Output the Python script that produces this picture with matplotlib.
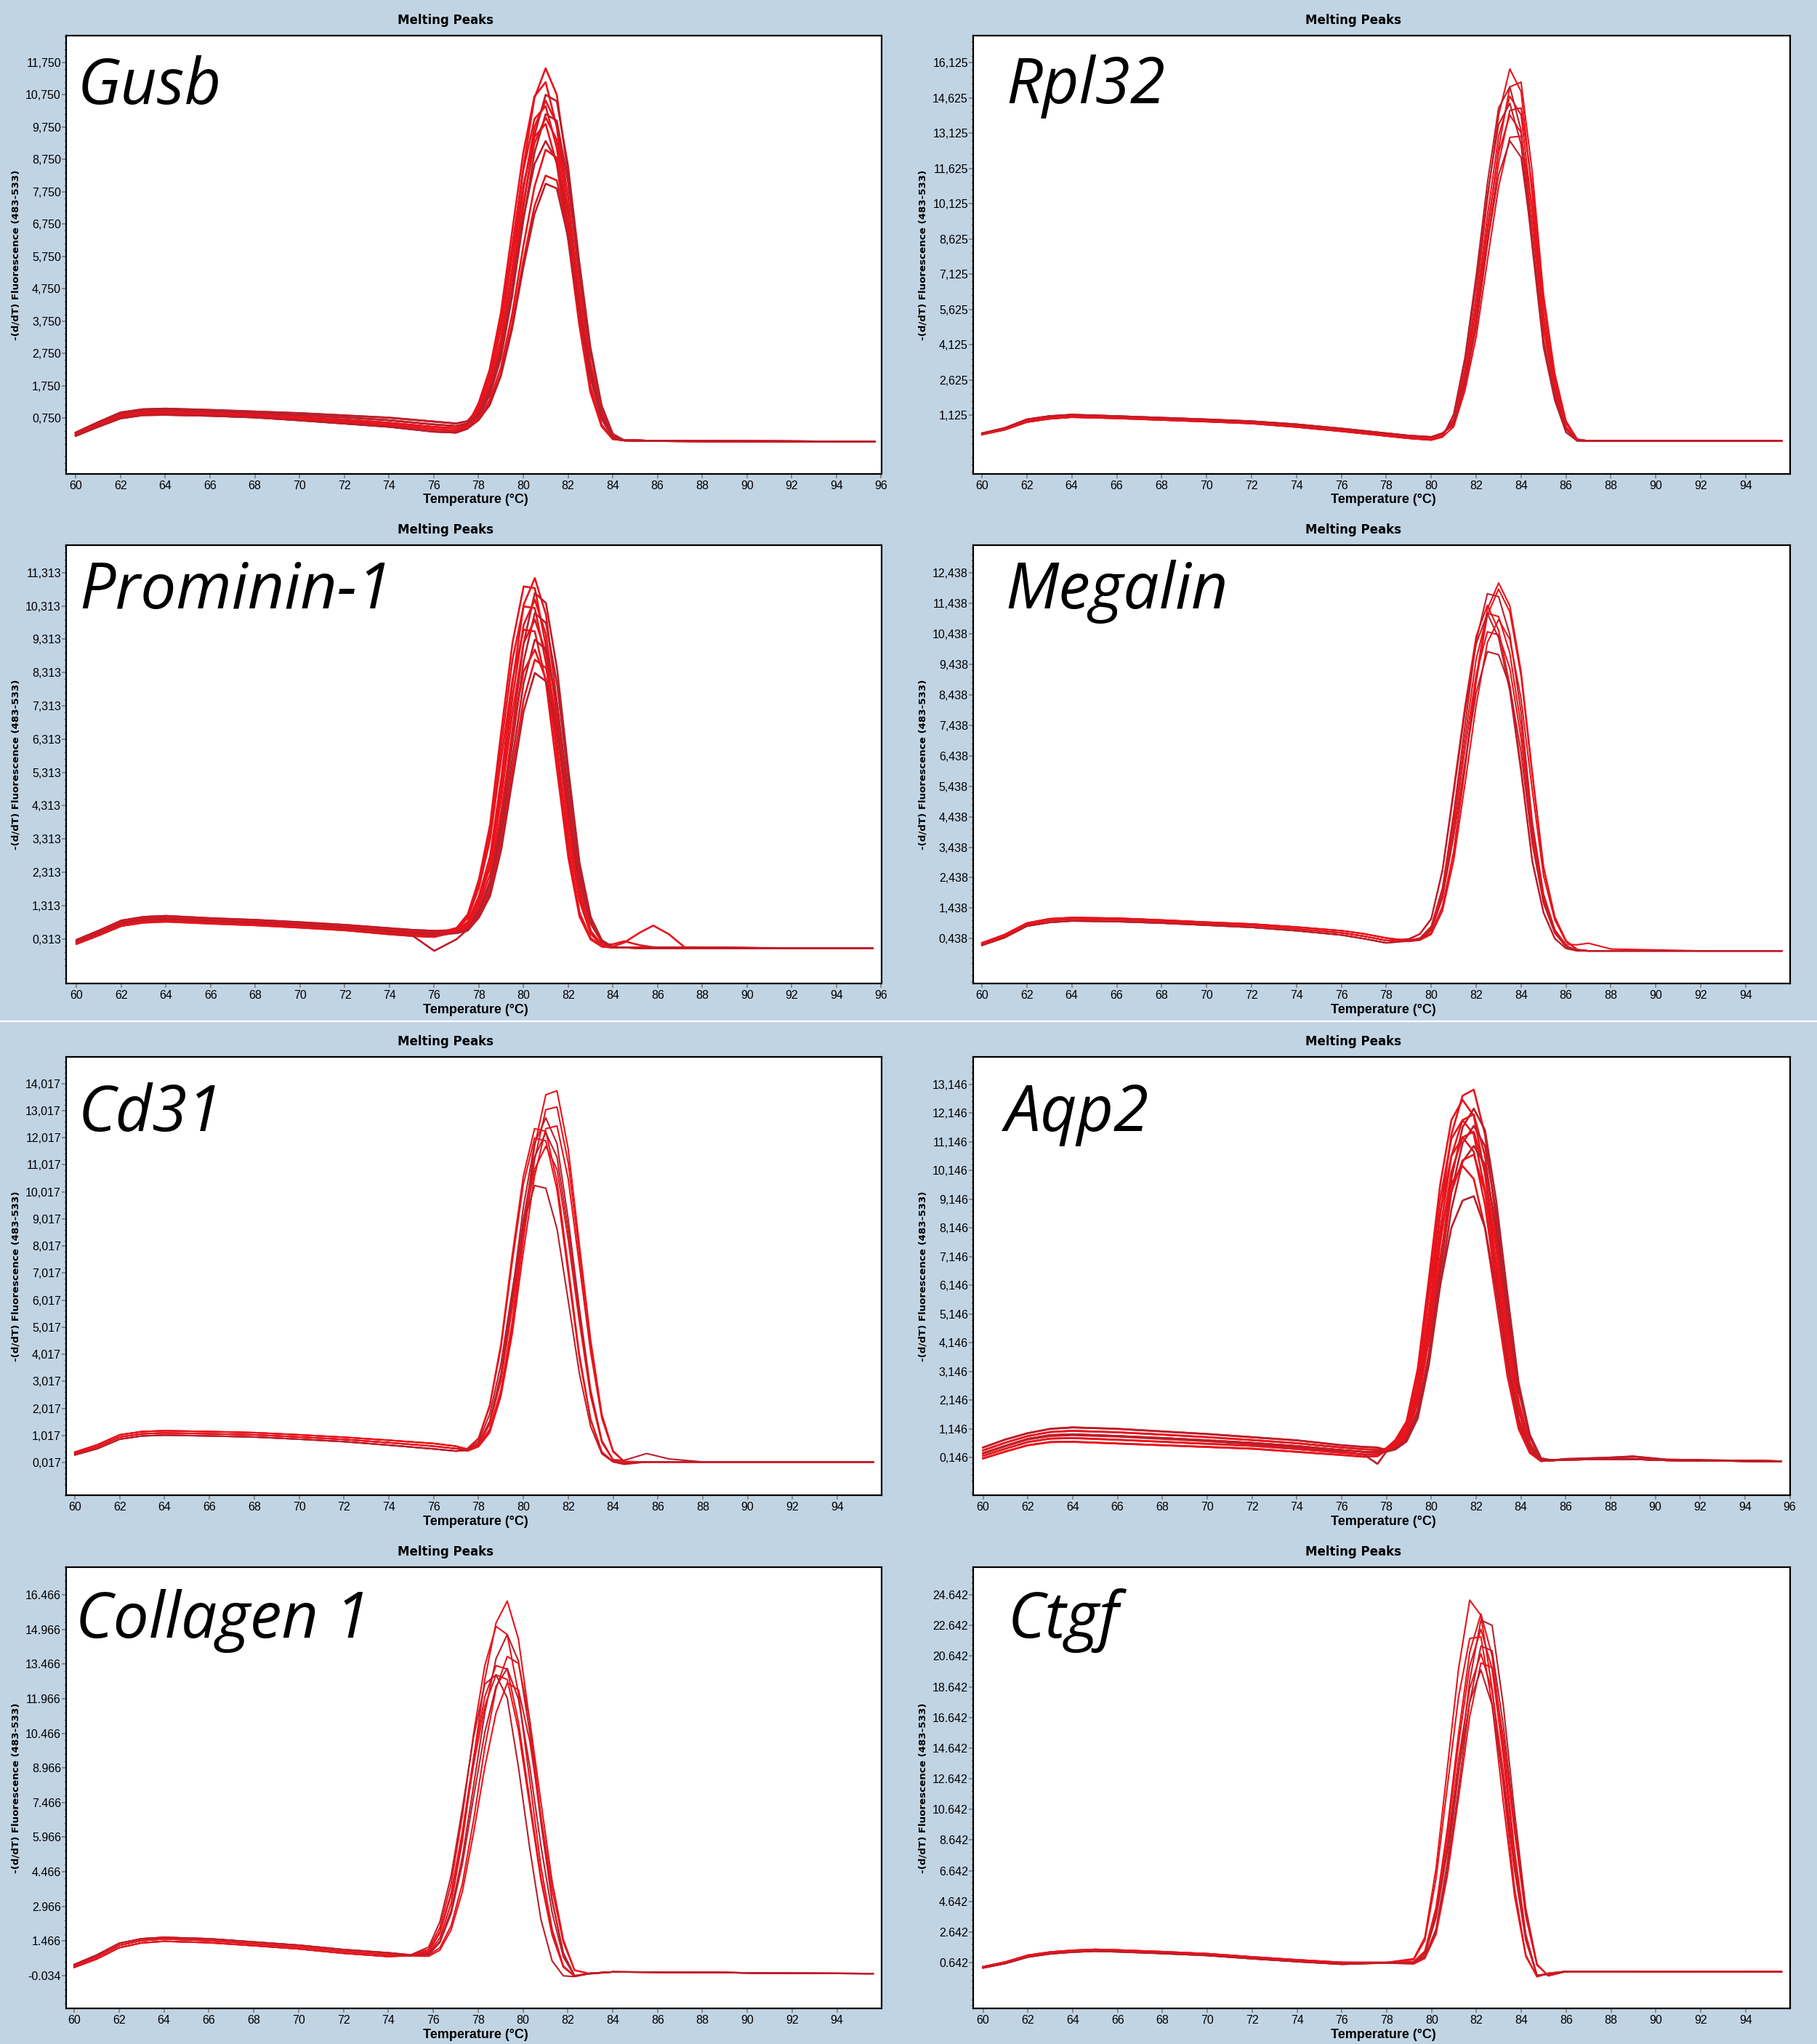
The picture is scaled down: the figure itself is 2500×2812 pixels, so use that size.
import numpy as np
import matplotlib
matplotlib.use("Agg")
import matplotlib.pyplot as plt
from matplotlib import font_manager as fm
from matplotlib.lines import Line2D
from matplotlib.ticker import FixedLocator

# ======================= DATA =======================
GENE_NAMES = ["Gusb", "Rpl32", "Prominin-1", "Megalin", "Cd31", "Aqp2", "Collagen 1", "Ctgf"]

# ---- Gusb ----
GUSB_T_BASE = [60, 61, 62, 63, 64, 66, 68, 70, 72, 74, 76, 77, 77.5]
GUSB_BASE = [
    [0.30, 0.62, 0.92, 1.02, 1.04, 1.00, 0.95, 0.90, 0.83, 0.76, 0.64, 0.58, 0.65],
    [0.28, 0.58, 0.87, 0.97, 0.99, 0.95, 0.90, 0.84, 0.77, 0.68, 0.55, 0.50, 0.58],
    [0.25, 0.55, 0.83, 0.93, 0.94, 0.90, 0.85, 0.78, 0.70, 0.60, 0.47, 0.43, 0.52],
    [0.22, 0.51, 0.78, 0.88, 0.89, 0.86, 0.81, 0.73, 0.64, 0.54, 0.40, 0.36, 0.47],
    [0.20, 0.48, 0.74, 0.84, 0.85, 0.82, 0.77, 0.68, 0.58, 0.48, 0.33, 0.30, 0.42],
]
GUSB_T_PEAK = [78, 78.5, 79, 79.5, 80, 80.5, 81, 81.5, 82, 82.5, 83, 83.5, 84]
GUSB_PEAKS = [
    [1.05, 1.95, 3.5, 5.85, 8.5, 10.65, 11.57, 10.75, 8.3, 5.15, 2.45, 0.9, 0.17],
    [1.2, 2.25, 4.0, 6.5, 8.95, 10.7, 11.14, 9.75, 7.1, 4.1, 1.75, 0.55, 0.1],
    [0.85, 1.55, 2.75, 4.75, 7.25, 9.5, 10.75, 10.55, 8.55, 5.6, 2.95, 1.15, 0.26],
    [0.97, 1.8, 3.2, 5.35, 7.8, 9.75, 10.57, 9.85, 7.6, 4.7, 2.25, 0.82, 0.15],
    [1.1, 2.1, 3.75, 6.05, 8.4, 10.0, 10.4, 9.1, 6.65, 3.85, 1.6, 0.5, 0.1],
    [0.8, 1.45, 2.6, 4.5, 6.85, 8.95, 10.15, 9.95, 8.05, 5.25, 2.8, 1.1, 0.25],
    [0.92, 1.7, 3.05, 5.1, 7.4, 9.25, 10.05, 9.35, 7.2, 4.5, 2.15, 0.78, 0.15],
    [1.05, 2.0, 3.55, 5.75, 7.95, 9.45, 9.85, 8.6, 6.3, 3.65, 1.55, 0.5, 0.1],
    [0.88, 1.6, 2.85, 4.7, 6.9, 8.6, 9.32, 8.7, 6.7, 4.15, 2.0, 0.72, 0.14],
    [0.75, 1.3, 2.3, 3.95, 6.05, 7.9, 9.05, 8.8, 7.1, 4.65, 2.45, 0.95, 0.22],
    [0.7, 1.2, 2.1, 3.65, 5.6, 7.3, 8.25, 8.1, 6.55, 4.3, 2.25, 0.9, 0.2],
    [0.68, 1.15, 2.05, 3.5, 5.4, 7.05, 8.0, 7.85, 6.35, 4.15, 2.2, 0.88, 0.2],
]
GUSB_T_TAIL = [84.5, 86, 90, 95.7]
GUSB_TAILS = [[0.06, 0.04, 0.03, 0.02]]
GUSB_BASE_IDX = [0, 2, 4, 1, 3, 0, 2, 4, 1, 3, 2, 4]
GUSB_TAIL_IDX = [0] * 12

# ---- Rpl32 ----
RPL32_T_BASE = [60, 61, 62, 63, 64, 66, 68, 70, 72, 74, 76, 78, 79, 80, 80.5]
RPL32_BASE = [
    [0.36, 0.58, 0.95, 1.09, 1.15, 1.09, 1.02, 0.95, 0.87, 0.74, 0.56, 0.36, 0.26, 0.20, 0.36],
    [0.33, 0.54, 0.89, 1.03, 1.10, 1.04, 0.97, 0.90, 0.82, 0.68, 0.50, 0.30, 0.20, 0.13, 0.28],
    [0.30, 0.50, 0.83, 0.97, 1.04, 0.99, 0.92, 0.85, 0.77, 0.62, 0.44, 0.24, 0.14, 0.07, 0.20],
]
RPL32_T_PEAK = [81, 81.5, 82, 82.5, 83, 83.5, 84, 84.5, 85, 85.5, 86, 86.5]
RPL32_PEAKS = [
    [0.95, 3.1, 6.2, 10.3, 13.9, 15.86, 14.9, 10.5, 5.35, 2.45, 0.64, 0.05],
    [0.73, 2.5, 5.1, 8.85, 12.5, 15.1, 15.3, 11.45, 6.25, 2.9, 0.88, 0.1],
    [1.17, 3.57, 7.05, 11.0, 14.2, 15.1, 13.25, 8.65, 4.2, 1.85, 0.41, 0.03],
    [0.9, 2.9, 5.8, 9.6, 13.0, 14.7, 13.9, 9.8, 5.0, 2.3, 0.6, 0.05],
    [0.69, 2.37, 4.85, 8.4, 11.85, 14.1, 14.2, 10.85, 5.9, 2.75, 0.84, 0.1],
    [1.12, 3.4, 6.7, 10.5, 13.5, 14.4, 12.65, 8.25, 4.0, 1.75, 0.39, 0.03],
    [0.85, 2.75, 5.5, 9.1, 12.3, 13.9, 13.15, 9.25, 4.75, 2.2, 0.57, 0.05],
    [0.63, 2.17, 4.45, 7.7, 10.85, 12.95, 13.0, 9.95, 5.45, 2.55, 0.78, 0.1],
    [0.8, 2.55, 5.05, 8.4, 11.35, 12.8, 12.1, 8.55, 4.35, 2.0, 0.52, 0.05],
]
RPL32_T_TAIL = [87, 90, 95.6]
RPL32_TAILS = [[0.03, 0.03, 0.03]]
RPL32_BASE_IDX = [1, 0, 2, 1, 0, 2, 1, 2, 0]
RPL32_TAIL_IDX = [0] * 9

# ---- Prominin-1 ----
PROM_T_BASE = [60, 61, 62, 63, 64, 66, 68, 70, 72, 74, 75, 76]
PROM_BASE = [
    [0.28, 0.56, 0.86, 0.97, 1.00, 0.93, 0.88, 0.81, 0.73, 0.63, 0.58, 0.55],
    [0.25, 0.52, 0.82, 0.92, 0.95, 0.89, 0.84, 0.77, 0.69, 0.58, 0.53, 0.50],
    [0.22, 0.49, 0.78, 0.88, 0.91, 0.85, 0.80, 0.73, 0.65, 0.54, 0.49, 0.46],
    [0.19, 0.45, 0.74, 0.84, 0.87, 0.81, 0.76, 0.69, 0.61, 0.49, 0.44, 0.41],
    [0.16, 0.42, 0.70, 0.80, 0.83, 0.77, 0.72, 0.65, 0.57, 0.45, 0.40, 0.37],
    [0.20, 0.47, 0.76, 0.86, 0.89, 0.83, 0.78, 0.70, 0.60, 0.48, 0.42, -0.05],
]
PROM_T_PEAK = [77, 77.5, 78, 78.5, 79, 79.5, 80, 80.5, 81, 81.5, 82, 82.5, 83, 83.5, 84]
PROM_PEAKS = [
    [0.58, 0.82, 1.6, 2.8, 5.15, 8.0, 10.35, 11.15, 10.05, 7.35, 4.25, 1.8, 0.55, 0.13, 0.05],
    [0.64, 1.05, 2.1, 3.75, 6.55, 9.2, 10.9, 10.85, 9.1, 6.1, 3.1, 1.1, 0.33, 0.09, 0.05],
    [0.52, 0.67, 1.2, 2.05, 3.9, 6.6, 9.2, 10.7, 10.4, 8.4, 5.4, 2.6, 0.97, 0.27, 0.06],
    [0.55, 0.78, 1.5, 2.6, 4.85, 7.55, 9.75, 10.5, 9.45, 6.95, 4.0, 1.7, 0.53, 0.13, 0.15],
    [0.62, 1.0, 2.0, 3.55, 6.15, 8.7, 10.3, 10.25, 8.6, 5.75, 2.95, 1.05, 0.31, 0.08, 0.05],
    [0.51, 0.63, 1.12, 1.95, 3.65, 6.2, 8.65, 10.1, 9.8, 7.95, 5.1, 2.45, 0.92, 0.26, 0.06],
    [0.53, 0.74, 1.43, 2.48, 4.55, 7.1, 9.2, 9.9, 8.9, 6.55, 3.75, 1.6, 0.5, 0.12, 0.05],
    [0.6, 0.93, 1.85, 3.3, 5.75, 8.1, 9.6, 9.55, 8.0, 5.35, 2.75, 0.98, 0.29, 0.08, 0.05],
    [0.3, 0.6, 1.05, 1.8, 3.4, 5.75, 8.0, 9.3, 9.0, 7.35, 4.7, 2.25, 0.85, 0.24, 0.06],
    [0.52, 0.7, 1.32, 2.25, 4.15, 6.5, 8.35, 9.0, 8.1, 5.95, 3.4, 1.45, 0.46, 0.11, 0.08],
    [0.49, 0.58, 1.0, 1.7, 3.2, 5.4, 7.5, 8.7, 8.45, 6.85, 4.4, 2.1, 0.8, 0.22, 0.06],
    [0.48, 0.56, 0.95, 1.6, 3.0, 5.1, 7.15, 8.3, 8.05, 6.55, 4.2, 2.0, 0.76, 0.21, 0.06],
]
PROM_T_TAIL = [84.5, 85.2, 85.8, 86.5, 87.2, 92, 95.6]
PROM_TAILS = [
    [0.05, 0.04, 0.04, 0.04, 0.04, 0.03, 0.03],
    [0.20, 0.50, 0.71, 0.45, 0.06, 0.03, 0.03],
    [0.24, 0.12, 0.06, 0.04, 0.04, 0.03, 0.03],
]
PROM_BASE_IDX = [0, 2, 4, 1, 3, 0, 2, 4, 5, 1, 3, 2]
PROM_TAIL_IDX = [0, 0, 0, 2, 0, 0, 0, 0, 0, 1, 0, 0]

# ---- Megalin ----
MEG_T_BASE = [60, 61, 62, 63, 64, 66, 68, 70, 72, 74, 76, 77, 78]
MEG_BASE = [
    [0.30, 0.57, 0.95, 1.09, 1.13, 1.11, 1.05, 0.98, 0.92, 0.82, 0.70, 0.60, 0.46],
    [0.26, 0.52, 0.90, 1.03, 1.08, 1.06, 1.00, 0.93, 0.87, 0.76, 0.63, 0.52, 0.38],
    [0.22, 0.47, 0.85, 0.97, 1.02, 1.00, 0.95, 0.88, 0.81, 0.70, 0.56, 0.44, 0.30],
]
MEG_T_PEAK = [79, 79.5, 80, 80.5, 81, 81.5, 82, 82.5, 83, 83.5, 84, 84.5, 85, 85.5, 86, 86.5]
MEG_PEAKS = [
    [0.36, 0.41, 0.63, 1.5, 3.3, 6.1, 9.0, 11.25, 12.1, 11.35, 9.2, 5.9, 2.8, 1.15, 0.37, 0.08],
    [0.37, 0.42, 0.62, 1.47, 3.25, 6.0, 8.85, 11.05, 11.9, 11.15, 9.05, 5.8, 2.75, 1.15, 0.37, 0.08],
    [0.38, 0.46, 0.84, 2.1, 4.55, 7.4, 10.2, 11.75, 11.65, 10.4, 7.85, 4.25, 1.9, 0.74, 0.21, 0.05],
    [0.43, 0.6, 1.1, 2.7, 5.35, 8.05, 10.35, 11.37, 10.55, 8.75, 6.05, 3.0, 1.3, 0.45, 0.12, 0.04],
    [0.38, 0.45, 0.8, 2.0, 4.3, 7.0, 9.6, 11.1, 11.0, 9.8, 7.4, 4.0, 1.8, 0.7, 0.25, 0.24],
    [0.41, 0.59, 1.08, 2.65, 5.2, 7.85, 10.1, 11.1, 10.3, 8.55, 5.9, 2.95, 1.28, 0.44, 0.12, 0.04],
    [0.35, 0.39, 0.58, 1.35, 3.0, 5.5, 8.1, 10.15, 10.9, 10.25, 8.3, 5.3, 2.5, 1.06, 0.34, 0.08],
    [0.37, 0.43, 0.76, 1.9, 4.05, 6.65, 9.1, 10.5, 10.4, 9.3, 7.0, 3.8, 1.7, 0.66, 0.19, 0.05],
    [0.36, 0.42, 0.71, 1.77, 3.8, 6.2, 8.5, 9.85, 9.75, 8.7, 6.55, 3.55, 1.6, 0.62, 0.18, 0.05],
]
MEG_T_TAIL = [87, 88, 92, 95.6]
MEG_TAILS = [[0.04, 0.04, 0.04, 0.04], [0.29, 0.10, 0.04, 0.04]]
MEG_BASE_IDX = [0, 1, 2, 1, 0, 2, 1, 0, 2]
MEG_TAIL_IDX = [0, 0, 0, 0, 1, 0, 0, 0, 0]

# ---- Cd31 ----
CD31_T_BASE = [60, 61, 62, 63, 64, 66, 68, 70, 72, 74, 76, 77]
CD31_BASE = [
    [0.40, 0.67, 1.04, 1.16, 1.19, 1.16, 1.12, 1.04, 0.95, 0.84, 0.72, 0.62],
    [0.35, 0.60, 0.96, 1.08, 1.11, 1.08, 1.04, 0.96, 0.87, 0.75, 0.62, 0.53],
    [0.30, 0.53, 0.88, 1.00, 1.03, 1.00, 0.96, 0.88, 0.79, 0.66, 0.52, 0.44],
]
CD31_T_PEAK = [77.5, 78, 78.5, 79, 79.5, 80, 80.5, 81, 81.5, 82, 82.5, 83, 83.5, 84, 84.5]
CD31_PEAKS = [
    [0.45, 0.65, 1.25, 2.7, 5.2, 8.6, 11.7, 13.6, 13.75, 11.6, 8.05, 4.55, 1.8, 0.45, 0.05],
    [0.46, 0.64, 1.2, 2.6, 5.0, 8.25, 11.2, 13.05, 13.15, 11.1, 7.7, 4.35, 1.75, 0.43, 0.05],
    [0.47, 0.72, 1.55, 3.3, 6.2, 9.45, 11.8, 12.75, 11.8, 9.0, 5.7, 2.7, 0.83, 0.12, 0.02],
    [0.44, 0.6, 1.12, 2.47, 4.75, 7.8, 10.6, 12.35, 12.45, 10.5, 7.3, 4.1, 1.65, 0.41, 0.05],
    [0.53, 0.92, 2.15, 4.4, 7.65, 10.6, 12.35, 12.25, 10.4, 7.25, 4.0, 1.63, 0.41, 0.05, 0.0],
    [0.47, 0.69, 1.49, 3.17, 5.95, 9.0, 11.3, 12.2, 11.3, 8.6, 5.45, 2.57, 0.79, 0.12, 0.1],
    [0.52, 0.89, 2.08, 4.25, 7.4, 10.3, 12.0, 11.9, 10.1, 7.0, 3.85, 1.58, 0.4, 0.05, -0.03],
    [0.46, 0.67, 1.43, 3.05, 5.7, 8.65, 10.85, 11.7, 10.85, 8.25, 5.2, 2.47, 0.76, 0.11, 0.02],
    [0.5, 0.8, 1.8, 3.65, 6.35, 8.8, 10.25, 10.15, 8.65, 6.0, 3.3, 1.35, 0.34, 0.04, -0.05],
]
CD31_T_TAIL = [85.5, 86.5, 88, 92, 95.6]
CD31_TAILS = [[0.04, 0.04, 0.04, 0.04, 0.04], [0.35, 0.15, 0.04, 0.04, 0.04]]
CD31_BASE_IDX = [0, 1, 2, 0, 1, 2, 0, 1, 2]
CD31_TAIL_IDX = [0, 0, 0, 0, 0, 1, 0, 0, 0]

# ---- Aqp2 ----
AQP2_T_BASE = [60, 61, 62, 63, 64, 66, 68, 70, 72, 74, 76, 77, 77.6]
AQP2_BASE = [
    [0.50, 0.78, 1.00, 1.15, 1.20, 1.15, 1.06, 0.97, 0.86, 0.75, 0.58, 0.52, 0.50],
    [0.40, 0.67, 0.90, 1.04, 1.08, 1.03, 0.95, 0.86, 0.76, 0.65, 0.50, 0.44, 0.42],
    [0.30, 0.56, 0.80, 0.93, 0.96, 0.90, 0.83, 0.75, 0.66, 0.55, 0.41, 0.35, 0.34],
    [0.21, 0.46, 0.69, 0.81, 0.83, 0.77, 0.70, 0.63, 0.56, 0.45, 0.32, 0.26, 0.27],
    [0.12, 0.36, 0.58, 0.69, 0.70, 0.64, 0.58, 0.52, 0.46, 0.35, 0.24, 0.18, 0.20],
    [0.30, 0.55, 0.78, 0.90, 0.93, 0.88, 0.80, 0.72, 0.62, 0.50, 0.35, 0.25, -0.07],
]
AQP2_T_PEAK = [78, 78.4, 78.9, 79.4, 79.9, 80.4, 80.9, 81.4, 81.9, 82.4, 82.9, 83.4, 83.9, 84.4, 84.9, 85.4]
AQP2_PEAKS = [
    [0.42, 0.6, 1.05, 2.45, 5.15, 8.6, 11.4, 12.75, 12.96, 11.4, 8.4, 4.9, 2.1, 0.67, 0.05, 0.06],
    [0.48, 0.76, 1.41, 3.25, 6.4, 9.65, 11.9, 12.6, 12.05, 10.0, 6.85, 3.7, 1.41, 0.38, 0.03, 0.06],
    [0.4, 0.48, 0.8, 1.7, 3.8, 6.9, 9.85, 11.65, 12.3, 11.55, 9.1, 5.85, 2.75, 0.95, 0.13, 0.05],
    [0.41, 0.57, 0.99, 2.3, 4.8, 8.05, 10.65, 11.9, 12.1, 10.65, 7.8, 4.6, 1.98, 0.63, 0.05, 0.06],
    [0.46, 0.72, 1.33, 3.08, 6.05, 9.15, 11.25, 11.9, 11.4, 9.45, 6.45, 3.5, 1.33, 0.36, 0.03, 0.06],
    [0.38, 0.45, 0.76, 1.61, 3.63, 6.55, 9.4, 11.1, 11.7, 11.0, 8.7, 5.55, 2.62, 0.91, 0.12, 0.05],
    [0.4, 0.55, 0.94, 2.18, 4.55, 7.6, 10.1, 11.3, 11.5, 10.1, 7.4, 4.35, 1.88, 0.59, 0.05, 0.06],
    [0.44, 0.68, 1.27, 2.92, 5.75, 8.65, 10.65, 11.3, 10.8, 8.95, 6.15, 3.3, 1.27, 0.34, 0.03, 0.06],
    [0.36, 0.43, 0.71, 1.52, 3.4, 6.15, 8.8, 10.45, 11.0, 10.35, 8.15, 5.2, 2.47, 0.85, 0.11, 0.05],
    [0.38, 0.51, 0.88, 2.03, 4.25, 7.1, 9.4, 10.5, 10.7, 9.4, 6.9, 4.05, 1.75, 0.55, 0.05, 0.06],
    [0.42, 0.62, 1.15, 2.66, 5.25, 7.9, 9.7, 10.3, 9.85, 8.15, 5.6, 3.0, 1.15, 0.31, 0.03, 0.06],
    [0.36, 0.47, 0.78, 1.8, 3.7, 6.15, 8.15, 9.1, 9.25, 8.15, 6.0, 3.5, 1.5, 0.48, 0.05, 0.06],
]
AQP2_T_TAIL = [86, 88, 89, 90.5, 95.6]
AQP2_TAILS = [[0.08, 0.10, 0.10, 0.06, 0.02], [0.10, 0.15, 0.19, 0.08, 0.02]]
AQP2_BASE_IDX = [0, 2, 4, 1, 3, 0, 2, 4, 5, 1, 3, 2]
AQP2_TAIL_IDX = [0, 1, 0, 0, 0, 1, 0, 0, 0, 0, 0, 0]

# ---- Collagen 1 ----
COL_T_BASE = [60, 61, 62, 63, 64, 66, 68, 70, 72, 74]
COL_BASE = [
    [0.44, 0.85, 1.36, 1.56, 1.62, 1.56, 1.42, 1.28, 1.09, 0.95],
    [0.38, 0.77, 1.27, 1.48, 1.55, 1.48, 1.34, 1.20, 1.01, 0.87],
    [0.32, 0.68, 1.17, 1.38, 1.45, 1.39, 1.26, 1.12, 0.93, 0.79],
]
COL_T_PEAK = [75, 75.8, 76.3, 76.8, 77.3, 77.8, 78.3, 78.8, 79.3, 79.8, 80.3, 80.8, 81.3, 81.8, 82.3, 83]
COL_PEAKS = [
    [0.86, 0.95, 1.6, 3.1, 5.8, 9.35, 12.8, 15.25, 16.2, 14.55, 11.0, 6.8, 3.25, 0.9, -0.06, 0.06],
    [0.86, 1.1, 2.05, 3.95, 6.9, 10.45, 13.4, 15.1, 14.75, 12.2, 8.45, 4.7, 1.98, 0.38, -0.07, 0.06],
    [0.84, 0.92, 1.45, 2.8, 5.1, 8.2, 11.35, 13.7, 14.75, 13.6, 10.55, 6.6, 3.2, 0.95, -0.04, 0.06],
    [0.82, 0.86, 1.17, 2.13, 3.95, 6.7, 9.85, 12.4, 13.8, 13.5, 11.05, 7.5, 4.05, 1.52, 0.2, 0.04],
    [0.84, 1.03, 1.87, 3.55, 6.2, 9.4, 12.05, 13.4, 13.25, 10.95, 7.6, 4.25, 1.78, 0.35, -0.06, 0.06],
    [0.83, 0.87, 1.4, 2.65, 4.8, 7.7, 10.5, 12.5, 13.28, 11.95, 9.05, 5.6, 2.7, 0.77, -0.05, 0.06],
    [0.85, 1.0, 1.82, 3.45, 6.0, 9.1, 11.65, 13.0, 12.8, 10.6, 7.35, 4.1, 1.72, 0.33, -0.06, 0.06],
    [0.82, 0.8, 1.07, 1.95, 3.6, 6.15, 9.0, 11.35, 12.65, 12.35, 10.15, 6.9, 3.7, 1.4, 0.19, 0.04],
    [0.86, 1.2, 2.3, 4.3, 7.2, 10.3, 12.6, 13.0, 12.0, 9.0, 5.5, 2.4, 0.6, -0.05, -0.08, 0.05],
]
COL_T_TAIL = [84, 88, 92, 95.6]
COL_TAILS = [[0.12, 0.10, 0.06, 0.05]]
COL_BASE_IDX = [1, 0, 2, 1, 0, 2, 1, 2, 0]
COL_TAIL_IDX = [0] * 9

# ---- Ctgf ----
CTGF_T_BASE = [60, 61, 62, 63, 64, 65, 66, 68, 70, 72, 74, 76]
CTGF_BASE = [
    [0.38, 0.69, 1.13, 1.34, 1.45, 1.51, 1.47, 1.36, 1.23, 1.02, 0.83, 0.66],
    [0.34, 0.64, 1.07, 1.28, 1.39, 1.45, 1.41, 1.30, 1.17, 0.96, 0.77, 0.60],
    [0.30, 0.59, 1.01, 1.22, 1.33, 1.39, 1.35, 1.24, 1.11, 0.90, 0.71, 0.54],
]
CTGF_T_PEAK = [78, 79.2, 79.7, 80.2, 80.7, 81.2, 81.7, 82.2, 82.7, 83.2, 83.7, 84.2, 84.7, 85.2, 86]
CTGF_PEAKS = [
    [0.66, 0.9, 2.3, 6.8, 13.3, 19.8, 24.3, 23.3, 18.5, 12.2, 5.5, 1.15, -0.28, -0.05, 0.07],
    [0.65, 0.7, 1.4, 4.25, 9.35, 15.55, 20.9, 23.4, 20.65, 14.7, 7.95, 2.5, -0.22, -0.1, 0.07],
    [0.63, 0.62, 1.05, 2.85, 7.15, 13.0, 19.05, 23.0, 22.65, 17.4, 10.45, 4.2, 0.55, -0.22, 0.07],
    [0.64, 0.68, 1.35, 4.05, 8.95, 14.9, 20.0, 22.4, 19.8, 14.05, 7.6, 2.4, -0.21, -0.1, 0.07],
    [0.66, 0.83, 2.1, 6.15, 12.1, 17.95, 21.8, 21.9, 17.5, 11.05, 5.0, 1.05, -0.26, -0.05, 0.07],
    [0.62, 0.59, 0.97, 2.65, 6.6, 12.0, 17.65, 21.3, 21.0, 16.1, 9.7, 3.87, 0.51, -0.2, 0.07],
    [0.63, 0.63, 1.26, 3.77, 8.3, 13.85, 18.55, 20.8, 18.4, 13.05, 7.05, 2.22, -0.19, -0.1, 0.07],
    [0.62, 0.56, 0.92, 2.5, 6.3, 11.4, 16.7, 20.2, 19.9, 15.3, 9.2, 3.67, 0.48, -0.19, 0.07],
    [0.63, 0.6, 1.2, 3.58, 7.9, 13.15, 17.65, 19.75, 17.45, 12.4, 6.7, 2.1, -0.18, -0.09, 0.07],
]
CTGF_T_TAIL = [88, 92, 95.6]
CTGF_TAILS = [[0.07, 0.06, 0.05]]
CTGF_BASE_IDX = [0, 1, 2, 1, 0, 2, 1, 0, 2]
CTGF_TAIL_IDX = [0] * 9

# ---- axis scales & tick labels ----
XLIM_LEFT = [59.57, 59.61, 59.53, 59.61, 59.61, 59.56, 59.64, 59.56]
XLIM_RIGHT = [96.0, 95.96, 96.0, 95.96, 95.96, 96.0, 95.97, 95.97]
XTICK_LAST = [96, 94, 96, 94, 94, 96, 94, 94]
YLIM_LOW = [-0.98, -1.375, -1.03, -1.03, -1.19, -1.16, -1.46, -2.34]
YLIM_HIGH = [12.58, 17.28, 12.14, 13.34, 15.0, 14.1, 17.67, 26.45]
YTICK_FIRST = [0.750, 1.125, 0.313, 0.438, 0.017, 0.146, -0.034, 0.642]
YTICK_STEP = [1.0, 1.5, 1.0, 1.0, 1.0, 1.0, 1.5, 2.0]
YTICK_COUNT = [12, 11, 12, 13, 15, 14, 12, 13]
DECIMAL_SEP = [",", ",", ",", ",", ",", ",", ".", "."]

TITLE = "Melting Peaks"
XLABEL = "Temperature (\u00b0C)"
YLABEL = "-(d/dT) Fluorescence (483-533)"

# ======================= STYLE / LAYOUT =======================
BG = "#c1d4e4"
LINE_COLORS = ["#e8141c", "#e8141c", "#b8202b"]
LINE_W = [1.9, 1.5, 1.9, 1.5, 1.5, 1.9, 1.5, 1.5]
W_PX, H_PX = 2500, 2812

names = {f.name for f in fm.fontManager.ttflist}
NARROW = "Liberation Sans Narrow" if "Liberation Sans Narrow" in names else "Liberation Sans"
italic_ok = any(f.name == "Open Sans" and f.style == "italic" for f in fm.fontManager.ttflist)
LABEL_FONT = "Open Sans" if italic_ok else "DejaVu Sans"

plt.rcParams["font.family"] = [NARROW, "DejaVu Sans"]

GENE_DATA = [
    (GUSB_T_BASE, GUSB_BASE, GUSB_T_PEAK, GUSB_PEAKS, GUSB_T_TAIL, GUSB_TAILS, GUSB_BASE_IDX, GUSB_TAIL_IDX),
    (RPL32_T_BASE, RPL32_BASE, RPL32_T_PEAK, RPL32_PEAKS, RPL32_T_TAIL, RPL32_TAILS, RPL32_BASE_IDX, RPL32_TAIL_IDX),
    (PROM_T_BASE, PROM_BASE, PROM_T_PEAK, PROM_PEAKS, PROM_T_TAIL, PROM_TAILS, PROM_BASE_IDX, PROM_TAIL_IDX),
    (MEG_T_BASE, MEG_BASE, MEG_T_PEAK, MEG_PEAKS, MEG_T_TAIL, MEG_TAILS, MEG_BASE_IDX, MEG_TAIL_IDX),
    (CD31_T_BASE, CD31_BASE, CD31_T_PEAK, CD31_PEAKS, CD31_T_TAIL, CD31_TAILS, CD31_BASE_IDX, CD31_TAIL_IDX),
    (AQP2_T_BASE, AQP2_BASE, AQP2_T_PEAK, AQP2_PEAKS, AQP2_T_TAIL, AQP2_TAILS, AQP2_BASE_IDX, AQP2_TAIL_IDX),
    (COL_T_BASE, COL_BASE, COL_T_PEAK, COL_PEAKS, COL_T_TAIL, COL_TAILS, COL_BASE_IDX, COL_TAIL_IDX),
    (CTGF_T_BASE, CTGF_BASE, CTGF_T_PEAK, CTGF_PEAKS, CTGF_T_TAIL, CTGF_TAILS, CTGF_BASE_IDX, CTGF_TAIL_IDX),
]

# axes boxes in pixels
COL_X = [(91, 1212.5), (1339, 2462.5)]
ROW_Y = [(49, 652), (750, 1353), (1454, 2057), (2156, 2763)]
LABEL_INSET_PX = [16, 45, 18, 44, 17, 44, 13, 48]
LABEL_BASE_PX = [94, 93, 87.5, 87.5, 102, 102, 97, 97]

fig = plt.figure(figsize=(W_PX / 100, H_PX / 100), dpi=100, facecolor=BG)

for i, gene in enumerate(GENE_NAMES):
    row, col = divmod(i, 2)
    x0, x1 = COL_X[col]
    y0, y1 = ROW_Y[row]
    ax = fig.add_axes([x0 / W_PX, 1 - y1 / H_PX, (x1 - x0) / W_PX, (y1 - y0) / H_PX])
    ax.set_facecolor("white")
    axw, axh = x1 - x0, y1 - y0

    tb, bases, tp, peaks, tt, tails, bidx, tidx = GENE_DATA[i]
    for k, pk in enumerate(peaks):
        xs = list(tb) + list(tp) + list(tt)
        ys = list(bases[bidx[k]]) + list(pk) + list(tails[tidx[k]])
        ax.plot(xs, ys, color=LINE_COLORS[k % 3], lw=LINE_W[i], solid_joinstyle="round", zorder=3)

    ax.set_xlim(XLIM_LEFT[i], XLIM_RIGHT[i])
    ax.set_ylim(YLIM_LOW[i], YLIM_HIGH[i])

    xt = np.arange(60, XTICK_LAST[i] + 1, 2)
    ax.xaxis.set_major_locator(FixedLocator(xt))
    ax.set_xticklabels([str(v) for v in xt])

    yt = YTICK_FIRST[i] + YTICK_STEP[i] * np.arange(YTICK_COUNT[i])
    ax.yaxis.set_major_locator(FixedLocator(yt))
    ax.set_yticklabels([("%.3f" % v).replace(".", DECIMAL_SEP[i]) for v in yt])
    mstep = YTICK_STEP[i] / 5.0
    nlo = int(np.floor((YTICK_FIRST[i] - YLIM_LOW[i]) / mstep))
    nhi = int(np.floor((YLIM_HIGH[i] - YTICK_FIRST[i]) / mstep))
    minors = [YTICK_FIRST[i] + mstep * j for j in range(-nlo, nhi + 1) if j % 5 != 0]
    ax.yaxis.set_minor_locator(FixedLocator(minors))

    ax.tick_params(axis="both", which="major", direction="out", length=4.3, width=1.2,
                   color="#7f7f7f", labelsize=11.5, labelcolor="black")
    ax.tick_params(axis="y", which="minor", direction="out", length=2.3, width=1.0, color="#8c8c8c")
    ax.tick_params(axis="x", pad=2.5)
    ax.tick_params(axis="y", pad=0.8)
    for sp in ax.spines.values():
        sp.set_linewidth(1.6)
        sp.set_color("black")

    ax.set_xlabel(XLABEL, fontsize=13, fontweight="bold", family=[NARROW, "DejaVu Sans"])
    ax.xaxis.label.set_va("center")
    ax.xaxis.set_label_coords(0.502, -36 / axh)
    ax.set_ylabel(YLABEL, fontsize=9.6, fontweight="bold", family="DejaVu Sans")
    ax.yaxis.label.set_va("center")
    ax.yaxis.set_label_coords(-69 / axw, 0.5)

    ax.text(0.4655, 1 + 21 / axh, TITLE, transform=ax.transAxes, ha="center", va="center",
            fontsize=12, fontweight="bold", family="DejaVu Sans")

    ax.text(LABEL_INSET_PX[i] / axw, 1 - LABEL_BASE_PX[i] / axh, gene, transform=ax.transAxes,
            ha="left", va="baseline", fontsize=63, style="italic", family=LABEL_FONT,
            color="black", zorder=5)

# white separator line between rows 2 and 3
fig.add_artist(Line2D([0, 1], [1 - 1405 / H_PX, 1 - 1405 / H_PX], transform=fig.transFigure,
                      color="white", lw=1.6))

fig.savefig("out.png", dpi=100, facecolor=BG)
